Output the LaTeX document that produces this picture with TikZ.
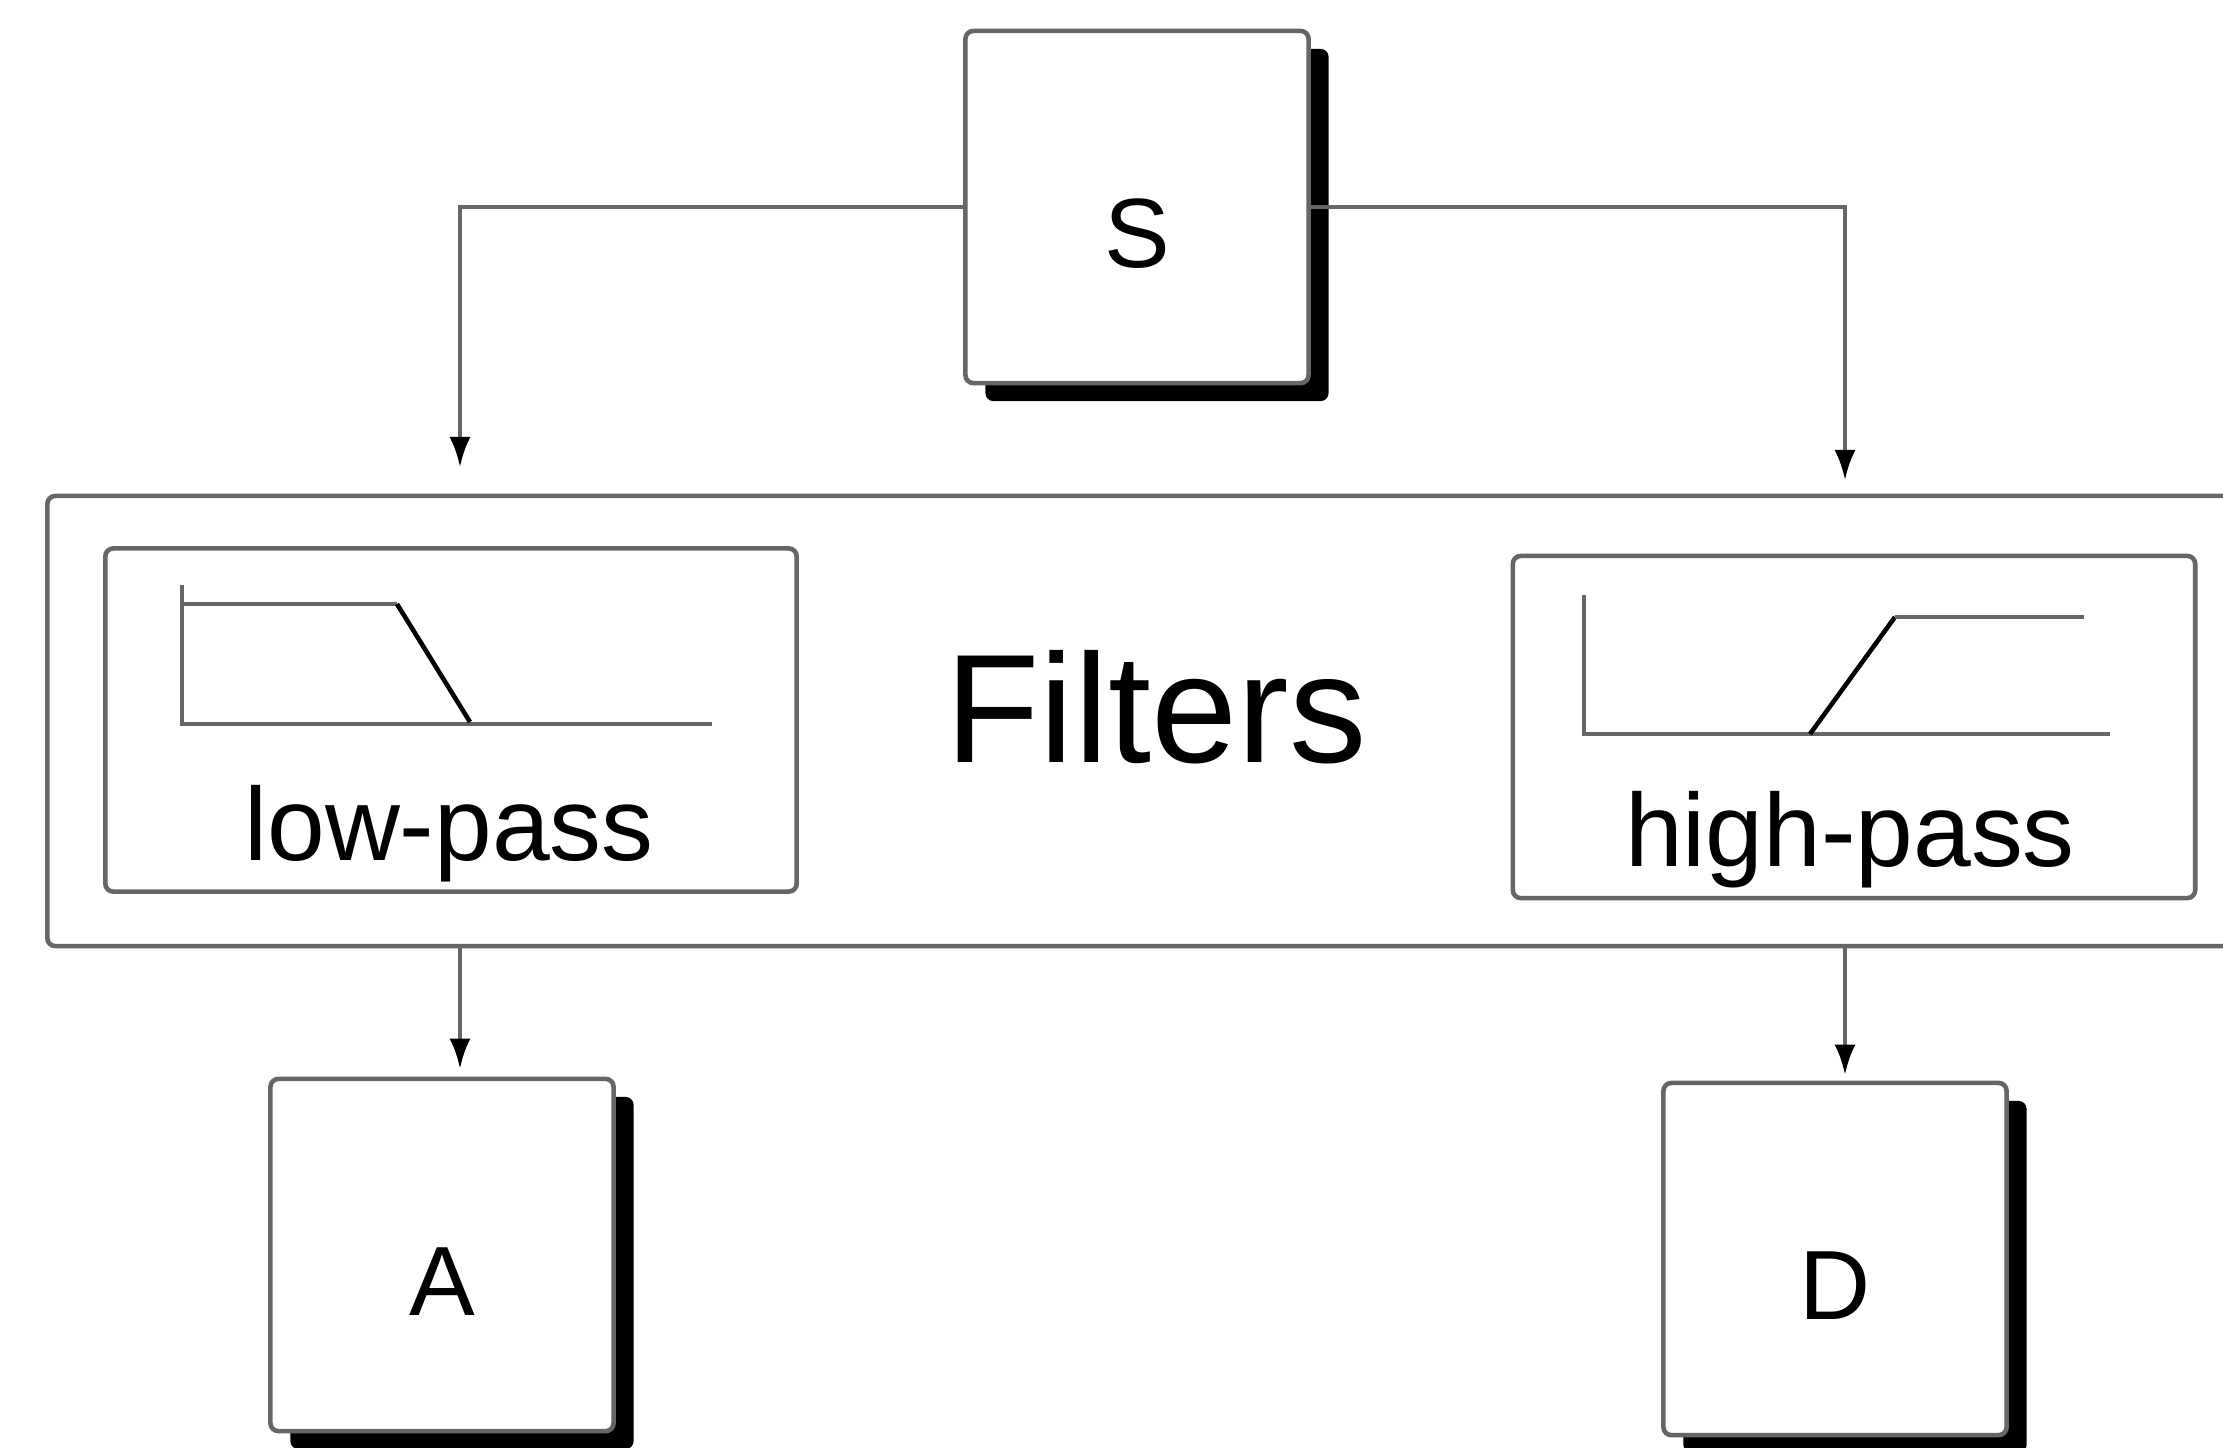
\documentclass[tikz,border=0pt]{standalone}
\usepackage{fontspec}
\setmainfont{Liberation Sans}
\usetikzlibrary{arrows.meta,shadows}
\definecolor{edgegray}{HTML}{666666}

\begin{document}
\begin{tikzpicture}[
  x=0.01cm, y=-0.01cm,
  every node/.style={inner sep=0pt},
  unit/.style={rectangle, draw=edgegray, line width=1.3pt, rounded corners=0.8mm, fill=white,
               minimum width=3.43cm, minimum height=3.52cm, font=\fontsize{28}{34}\selectfont,
               text height=1.21cm, text depth=0cm,
               drop shadow={shadow xshift=0.2cm, shadow yshift=-0.18cm, fill=black, opacity=1}},
  filterbox/.style={rectangle, draw=edgegray, line width=1.3pt, rounded corners=0.8mm, fill=white},
  passtext/.style={font=\fontsize{29.5}{35}\selectfont, anchor=base},
  curve/.style={draw=edgegray, line width=1.3pt},
  slope/.style={draw=black, line width=1.3pt},
  arrow/.style={draw=edgegray, line width=1.1pt, -{Latex[black, length=0.3cm, width=0.21cm]}}
]
  \clip (0,0) rectangle (2223,1448);
  \fill[white] (0,0) rectangle (2223,1448);

  % filter bank
  \node[filterbox, minimum width=22.16cm, minimum height=4.5cm, text depth=0.3cm,
        font=\fontsize{44}{52}\selectfont] (filters) at (1156,721) {Filters};
  \node[filterbox, minimum width=6.91cm, minimum height=3.43cm] (lowpass) at (451,720) {};
  \node[filterbox, minimum width=6.82cm, minimum height=3.42cm] (highpass) at (1854,727) {};
  \node[passtext] (lowlbl) at (449,860) {low-pass};
  \node[passtext] (highlbl) at (1850,866) {high-pass};

  % response curves
  \draw[curve] (182,585) |- (712,724);
  \draw[curve] (182,604) -- (397,604);
  \draw[slope] (397,604) -- (470,722);
  \draw[curve] (1584,595) |- (2110,734);
  \draw[slope] (1810,734) -- (1895,617);
  \draw[curve] (1895,617) -- (2084,617);

  % signal and outputs
  \node[unit] (S) at (1137,207) {S};
  \node[unit] (A) at (442,1255) {A};
  \node[unit] (D) at (1835,1259) {D};

  \coordinate (lowtap) at (460,467);
  \coordinate (hightap) at (1845,480);

  \draw[arrow] (S.west) -| (lowtap);
  \draw[arrow] (S.east) -| (hightap);
  \draw[arrow, shorten >=0.08cm] (filters.south -| lowtap) -- (A.north -| lowtap);
  \draw[arrow, shorten >=0.06cm] (filters.south -| hightap) -- (D.north -| hightap);
\end{tikzpicture}
\end{document}
